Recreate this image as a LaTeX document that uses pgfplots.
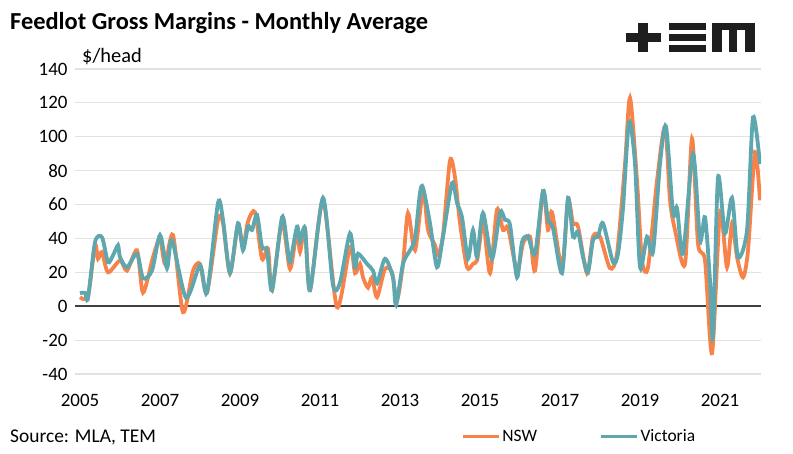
\documentclass[border=0pt]{standalone}
\usepackage{fontspec}
\setmainfont{Carlito}
\usepackage{pgfplots}
\pgfplotsset{compat=1.18}
\definecolor{nsw}{RGB}{247,131,74}
\definecolor{vic}{RGB}{94,167,175}
\definecolor{gridc}{RGB}{228,226,218}
\definecolor{zeroc}{RGB}{64,64,64}
\definecolor{logoc}{RGB}{30,30,30}
\begin{document}
\begin{tikzpicture}
\begin{axis}[
    at={(0,0)}, anchor=south west,
    scale only axis, width=686bp, height=305bp,
    xmin=2004.875, xmax=2022.025,
    ymin=-40, ymax=140,
    xtick={2005,2007,...,2021},
    ytick={-40,-20,...,140},
    /pgf/number format/1000 sep={},
    /pgf/number format/assume math mode=true,
    tick label style={font=\fontsize{19}{22}\selectfont},
    x tick label style={yshift=-17bp},
    y tick label style={xshift=-4bp},
    axis line style={draw=none},
    major tick style={draw=none},
    ymajorgrids=true,
    grid style={gridc, line width=1.2bp},
    extra y ticks={0},
    extra y tick labels={},
    extra y tick style={grid style={zeroc, line width=1.6bp}},
    legend style={at={(0.558,-0.205)}, anchor=west, draw=none, fill=none,
        legend columns=2, font=\fontsize{17.5}{20}\selectfont,
        /tikz/every even column/.append style={column sep=60bp}},
    legend image code/.code={\draw[#1, line width=3.5bp] (0bp,0bp) -- (36bp,0bp);},
]
\addplot[nsw, line width=3.8bp, smooth, tension=0.45] coordinates {
(2005.000,5.3)(2005.200,6)(2005.375,36)(2005.450,28)(2005.550,32)(2005.700,20)
(2006.000,27)(2006.175,21)(2006.425,33)(2006.575,8)(2006.825,29)(2007.000,40)
(2007.125,25)(2007.325,42)(2007.575,-3.5)(2007.825,21)(2008.000,25)(2008.175,8)
(2008.450,51)(2008.575,49)(2008.750,19.5)(2008.950,48)(2009.075,35)(2009.200,50)
(2009.375,55.5)(2009.550,28)(2009.700,34)(2009.800,9.4)(2010.050,50)(2010.250,22)
(2010.425,45)(2010.500,32)(2010.625,46)(2010.750,9.4)(2011.075,62.5)(2011.425,-0.6)
(2011.750,35)(2011.875,19.5)(2012.000,25)(2012.075,17)(2012.200,11)(2012.300,17)
(2012.425,5.3)(2012.625,22)(2012.800,20)(2012.925,3.5)(2013.075,25)(2013.200,55)
(2013.375,33)(2013.575,68)(2013.700,45)(2013.875,36)(2013.950,30)(2014.075,42)
(2014.250,86)(2014.375,76)(2014.500,49)(2014.675,23)(2014.825,25)(2014.925,27)
(2015.000,39)(2015.075,52.5)(2015.250,19.5)(2015.425,57)(2015.575,45)(2015.700,46)
(2015.925,21)(2016.075,37)(2016.250,41)(2016.375,21)(2016.575,68)(2016.700,45)
(2016.800,55.5)(2017.050,23)(2017.200,62.5)(2017.325,49)(2017.450,47)(2017.675,19.5)
(2017.825,41)(2018.000,41)(2018.250,22.4)(2018.425,31)(2018.625,84)(2018.750,123)
(2018.925,74)(2019.050,27)(2019.200,23)(2019.425,74)(2019.625,106)(2019.750,62.5)
(2019.875,45)(2020.125,25)(2020.300,99)(2020.450,37)(2020.625,27)(2020.800,-27.7)
(2021.000,55)(2021.175,23)(2021.300,49)(2021.425,29)(2021.575,17)(2021.700,33)
(2021.875,91)(2022.000,62.5)
};
\addplot[vic, line width=3.8bp, smooth, tension=0.45] coordinates {
(2005.000,7.7)(2005.125,8)(2005.200,4.7)(2005.375,37.8)(2005.550,40.7)(2005.700,26)
(2005.825,30)(2005.950,36)(2006.000,29)(2006.175,23)(2006.425,31)(2006.575,16.5)
(2006.800,21)(2007.000,42)(2007.175,22.4)(2007.300,39)(2007.650,5)(2008.000,24)
(2008.175,8)(2008.450,61)(2008.575,51)(2008.750,19.5)(2008.950,49)(2009.075,33)
(2009.200,47)(2009.300,45)(2009.425,54)(2009.550,35)(2009.675,33)(2009.800,9.4)
(2010.050,52.5)(2010.175,37)(2010.250,26)(2010.425,47)(2010.500,38)(2010.625,46)
(2010.750,9.4)(2011.075,64)(2011.325,12.4)(2011.500,14)(2011.750,43)(2011.875,23)
(2011.950,31)(2012.175,25)(2012.325,21)(2012.425,13.6)(2012.625,28)(2012.825,17)
(2012.900,0.6)(2013.075,25)(2013.250,33)(2013.375,40)(2013.500,67)(2013.575,70)
(2013.750,49)(2013.925,23)(2014.075,41)(2014.300,72.6)(2014.425,61)(2014.550,52.5)
(2014.700,28)(2014.825,45)(2014.925,29)(2015.075,55)(2015.300,28)(2015.500,55.5)
(2015.625,51)(2015.750,48)(2015.925,17)(2016.050,38)(2016.200,41)(2016.375,31)
(2016.575,68)(2016.700,51)(2016.825,46)(2017.050,19.5)(2017.200,64)(2017.325,41)
(2017.450,44)(2017.575,29)(2017.700,20)(2017.825,39)(2017.950,41)(2018.075,49)
(2018.325,26)(2018.450,31)(2018.575,58)(2018.725,108.6)(2018.875,84)(2019.000,23)
(2019.175,41)(2019.325,32)(2019.500,84)(2019.650,106)(2019.825,55)(2019.925,58)
(2020.075,31)(2020.325,90)(2020.500,39)(2020.625,52.5)(2020.750,15)(2020.825,-18)
(2020.950,76)(2021.125,43)(2021.300,64)(2021.450,29)(2021.675,45)(2021.825,111.5)
(2022.000,84)
};
\legend{NSW, Victoria}
\end{axis}
% page furniture, in pixel units of the reference (origin top left, y down)
\begin{scope}[shift={(-75bp,374bp)}, x=1bp, y=-1bp]
\node[anchor=west, inner sep=0pt, font=\fontsize{24.5}{28}\selectfont\bfseries] at (10,23) {Feedlot Gross Margins - Monthly Average};
\node[anchor=west, inner sep=0pt, font=\fontsize{20.5}{24}\selectfont] at (82,57) {\$/head};
\node[anchor=west, inner sep=0pt, font=\fontsize{19.5}{23}\selectfont] at (10,437) {Source: MLA, TEM};
\fill[logoc] (638,23) rectangle (648,52);
\fill[logoc] (626,33) rectangle (661,42);
\fill[logoc] (669,23) rectangle (706,30);
\fill[logoc] (669,34) rectangle (706,41);
\fill[logoc] (669,45) rectangle (706,52);
\fill[logoc] (712,23) rectangle (755,30);
\fill[logoc] (712,23) rectangle (722,52);
\fill[logoc] (729,23) rectangle (737,52);
\fill[logoc] (745,23) rectangle (755,52);
\pgfresetboundingbox
\path[use as bounding box] (0,0) rectangle (793,454);
\end{scope}
\end{tikzpicture}
\end{document}
